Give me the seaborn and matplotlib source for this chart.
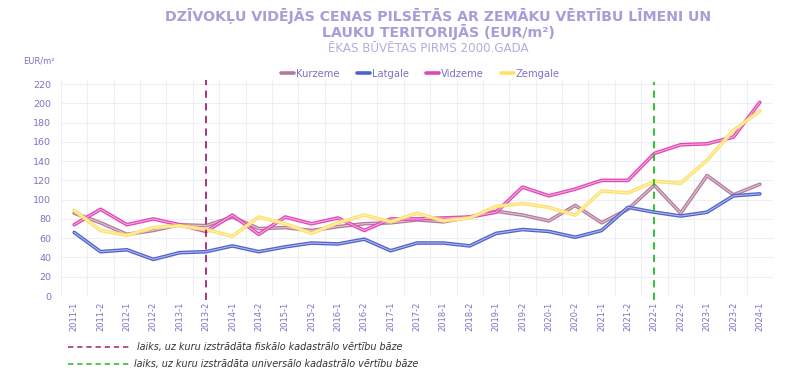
import numpy as np
import pandas as pd
import seaborn as sns
import matplotlib.pyplot as plt
import matplotlib.patheffects as pe
from matplotlib.lines import Line2D
from matplotlib.ticker import MultipleLocator

periods = ['2011-1', '2011-2', '2012-1', '2012-2', '2013-1', '2013-2', '2014-1',
           '2014-2', '2015-1', '2015-2', '2016-1', '2016-2', '2017-1', '2017-2',
           '2018-1', '2018-2', '2019-1', '2019-2', '2020-1', '2020-2', '2021-1',
           '2021-2', '2022-1', '2022-2', '2023-1', '2023-2', '2024-1']

kurzeme = [86, 76, 64, 68, 74, 73, 82, 70, 71, 68, 72, 75, 76, 79,
           77, 82, 88, 84, 78, 94, 76, 90, 115, 86, 125, 105, 116]
latgale = [66, 46, 48, 38, 45, 46, 52, 46, 51, 55, 54, 59, 47, 55,
           55, 52, 65, 69, 67, 61, 68, 92, 87, 83, 87, 104, 106]
vidzeme = [74, 90, 74, 80, 74, 67, 84, 64, 82, 75, 81, 68, 80, 80,
           81, 82, 87, 113, 104, 111, 120, 120, 148, 157, 158, 165, 201]
zemgale = [89, 68, 63, 71, 73, 69, 62, 82, 75, 65, 76, 84, 77, 86,
           78, 81, 93, 96, 92, 84, 109, 107, 119, 117, 141, 172, 192]

regions = ['Kurzeme', 'Latgale', 'Vidzeme', 'Zemgale']
colors = ['#b47a9c', '#4f62cc', '#e246b6', '#fde169']

fiscal_period = '2013-2'
universal_period = '2022-1'

title = 'DZĪVOKĻU VIDĒJĀS CENAS PILSĒTĀS AR ZEMĀKU VĒRTĪBU LĪMENI UN\nLAUKU TERITORIJĀS (EUR/m²)'
subtitle = 'ĒKAS BŪVĒTAS PIRMS 2000.GADA'
note_fiscal = 'laiks, uz kuru izstrādāta fiskālo kadastrālo vērtību bāze'
note_universal = 'laiks, uz kuru izstrādāta universālo kadastrālo vērtību bāze'

text_col = '#7b74c4'

df = pd.DataFrame({
    'pos': list(range(len(periods))) * 4,
    'value': kurzeme + latgale + vidzeme + zemgale,
    'region': np.repeat(regions, len(periods)),
})

sns.set_style('white')
plt.rcParams['font.family'] = ['DejaVu Sans']

fig = plt.figure(figsize=(8, 3.8), dpi=100)
ax = fig.add_axes([0.07625, 0.221, 0.89, 0.568])

sns.lineplot(data=df, x='pos', y='value', hue='region', palette=colors,
             linewidth=2.6, ax=ax, legend=False,
             path_effects=[pe.Normal(),
                           pe.Stroke(linewidth=0.8, foreground='white', alpha=0.55)])

ax.set_xlim(-0.5, len(periods) - 0.5)
ax.set_ylim(0, 224)
ax.set_yticks(np.arange(0, 221, 20))
ax.set_xticks(range(len(periods)))
ax.set_xticklabels(periods, rotation=90)
ax.xaxis.set_minor_locator(MultipleLocator(1, offset=0.5))
ax.grid(False)
ax.grid(axis='y', which='major', color='#eeeef8', linewidth=0.8)
ax.grid(axis='x', which='minor', color='#eeeef8', linewidth=0.8)
ax.set_axisbelow(True)
for s in ax.spines.values():
    s.set_visible(False)
ax.tick_params(axis='both', which='both', length=0, colors=text_col)
ax.tick_params(axis='y', labelsize=6.8, pad=7)
ax.tick_params(axis='x', labelsize=6, pad=4)
ax.set_xlabel('')
ax.set_ylabel('')

ax.axvline(periods.index(fiscal_period), ymin=-0.02, ymax=1.0, color='#a3246e',
           linestyle=(0, (4, 3)), linewidth=1.3, clip_on=False)
ax.axvline(periods.index(universal_period), ymin=-0.02, ymax=0.99, color='#22bb22',
           linestyle=(0, (4, 3)), linewidth=1.3, clip_on=False)

handles = [Line2D([0], [0], color=c, linewidth=2.6) for c in colors]
leg = ax.legend(handles, regions, loc='lower center', bbox_to_anchor=(0.505, 0.965),
                ncol=4, frameon=False, fontsize=7.2, handlelength=1.3,
                handletextpad=0.2, columnspacing=1.7)
for t in leg.get_texts():
    t.set_color(text_col)

fig.text(0.548, 0.978, title, ha='center', va='top', fontsize=10.2,
         fontweight='bold', color='#a59fd9', linespacing=1.0)
fig.text(0.535, 0.873, subtitle, ha='center', va='center', fontsize=8.6,
         color='#b3aedd')
fig.text(0.029, 0.84, 'EUR/m²', ha='left', va='center', fontsize=6, color=text_col)

fig.add_artist(Line2D([0.085, 0.163], [0.087, 0.087], color='#a3246e',
                      linestyle=(0, (3.5, 2.5)), linewidth=1.1))
fig.add_artist(Line2D([0.085, 0.163], [0.042, 0.042], color='#22bb22',
                      linestyle=(0, (3.5, 2.5)), linewidth=1.1))
fig.text(0.171, 0.087, note_fiscal, ha='left', va='center', fontsize=6.9,
         style='italic', color='#333333')
fig.text(0.168, 0.042, note_universal, ha='left', va='center', fontsize=6.9,
         style='italic', color='#333333')

fig.savefig('out.png', dpi=100)
